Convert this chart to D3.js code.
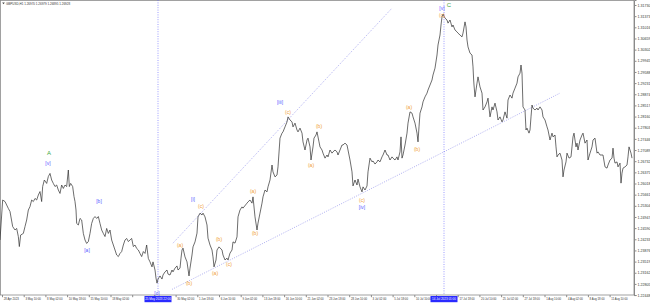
<!DOCTYPE html>
<html><head><meta charset="utf-8">
<script src="https://cdn.jsdelivr.net/npm/d3@7"></script>
<style>body{margin:0;background:#fff;overflow:hidden} svg{display:block;font-family:"Liberation Sans",Arial,sans-serif}</style>
</head><body><svg id="c" width="650" height="304"></svg>
<script>
// ---------- data ----------
const symbol = "GBPUSD,H1";
const headerQuote = ["1.26970", "1.26979", "1.26895", "1.26928"];

// [bar index, close]
const closeSeries = [
[0,1.2421],[8,1.2549],[15,1.2544],[25,1.2522],[30,1.2512],[38,1.2464],[45,1.2453],[50,1.2458],[55,1.2432],[58,1.2400],
[62,1.2437],[70,1.2442],[75,1.2464],[80,1.2485],[85,1.2517],[90,1.2528],[95,1.2549],[100,1.2544],[105,1.2554],[110,1.2549],
[115,1.2565],[120,1.2576],[125,1.2544],[128,1.2592],[133,1.2613],[140,1.2602],[145,1.2624],[150,1.2634],[155,1.2613],[160,1.2602],
[165,1.2592],[170,1.2597],[175,1.2581],[180,1.2570],[185,1.2597],[190,1.2586],[195,1.2597],[200,1.2592],[205,1.2645],[208,1.2592],
[212,1.2602],[218,1.2592],[222,1.2560],[225,1.2544],[228,1.2517],[230,1.2474],[235,1.2469],[240,1.2490],[245,1.2485],[250,1.2442],
[255,1.2421],[260,1.2410],[265,1.2416],[270,1.2442],[275,1.2474],[280,1.2490],[285,1.2496],[290,1.2490],[295,1.2496],[300,1.2474],
[305,1.2453],[310,1.2442],[315,1.2432],[320,1.2458],[325,1.2442],[330,1.2453],[335,1.2421],[340,1.2405],[345,1.2389],[350,1.2373],
[355,1.2368],[360,1.2378],[365,1.2384],[370,1.2405],[375,1.2421],[380,1.2426],[385,1.2416],[390,1.2421],[395,1.2426],[400,1.2400],
[405,1.2405],[410,1.2394],[415,1.2389],[420,1.2378],[425,1.2368],[430,1.2384],[435,1.2378],[440,1.2405],[445,1.2362],
[450,1.2351],[456,1.2335],[459,1.2351],[465,1.2325],[468,1.2299],[471,1.2283],[474,1.2296],[480,1.2306],[486,1.2296],[489,1.2309],
[495,1.2319],[501,1.2325],[504,1.2312],[510,1.2309],[516,1.2325],[519,1.2319],[525,1.2331],[531,1.2338],[534,1.2325],[540,1.2331],
[543,1.2363],[546,1.2389],[549,1.2395],[555,1.2367],[561,1.2351],[567,1.2306],[570,1.2331],[576,1.2373],[579,1.2399],[585,1.2415],
[591,1.2443],[594,1.2495],[600,1.2507],[606,1.2501],[609,1.2507],[615,1.2495],[621,1.2469],[624,1.2427],[630,1.2405],[636,1.2389],
[639,1.2367],[642,1.2335],[648,1.2357],[651,1.2389],[657,1.2399],[666,1.2389],[669,1.2373],[675,1.2357],[681,1.2363],[684,1.2357],
[690,1.2379],[696,1.2389],[699,1.2415],[705,1.2411],[711,1.2431],[714,1.2495],[720,1.2517],[726,1.2527],[729,1.2523],[741,1.2539],
[744,1.2543],[750,1.2549],[756,1.2539],[759,1.2559],[765,1.2495],[771,1.2453],[774,1.2475],[780,1.2507],[786,1.2539],[789,1.2559],
[795,1.2581],[801,1.2575],[804,1.2591],[810,1.2613],[816,1.2661],[819,1.2639],[825,1.2623],[831,1.2629],[834,1.2655],[840,1.2747],
[846,1.2763],[849,1.2767],[855,1.2783],[861,1.2799],[864,1.2815],[870,1.2805],[876,1.2799],[879,1.2783],[885,1.2795],[891,1.2773],
[894,1.2767],[900,1.2779],[906,1.2763],[909,1.2735],[915,1.2709],[921,1.2741],[924,1.2747],[930,1.2719],[933,1.2677],[939,1.2719],
[942,1.2747],[948,1.2757],[951,1.2767],[957,1.2735],[960,1.2719],[966,1.2709],[969,1.2699],[975,1.2683],[981,1.2693],[984,1.2687],
[990,1.2709],[996,1.2699],[999,1.2703],[1005,1.2709],[1011,1.2703],[1014,1.2693],[1020,1.2709],[1026,1.2725],[1029,1.2725],[1035,1.2731],
[1041,1.2725],[1044,1.2709],[1050,1.2677],[1056,1.2639],[1059,1.2594],[1065,1.2613],[1071,1.2597],[1074,1.2616],[1080,1.2591],[1086,1.2575],
[1089,1.2591],[1095,1.2581],[1101,1.2594],[1104,1.2639],[1110,1.2683],[1116,1.2671],[1119,1.2674],[1125,1.2664],[1131,1.2671],[1134,1.2677],
[1140,1.2671],[1146,1.2687],[1149,1.2693],[1155,1.2709],[1161,1.2693],[1164,1.2693],[1170,1.2677],[1176,1.2687],[1179,1.2683],[1185,1.2677],
[1191,1.2687],[1194,1.2677],[1200,1.2703],[1203,1.2751],[1206,1.2683],[1209,1.2693],[1215,1.2725],[1221,1.2763],[1224,1.2795],[1230,1.2831],
[1236,1.2827],[1239,1.2815],[1245,1.2795],[1251,1.2763],[1254,1.2735],[1257,1.2783],[1260,1.2827],[1266,1.2847],[1269,1.2863],[1275,1.2879],
[1281,1.2891],[1284,1.2901],[1290,1.2917],[1296,1.2933],[1299,1.2949],[1305,1.2971],[1311,1.3013],[1314,1.3045],[1320,1.3077],[1323,1.3109],
[1326,1.3135],[1329,1.3144],[1335,1.3131],[1341,1.3125],[1344,1.3115],[1350,1.3125],[1356,1.3103],[1359,1.3109],[1365,1.3093],[1371,1.3087],
[1374,1.3083],[1380,1.3077],[1386,1.3071],[1389,1.3083],[1395,1.3119],[1398,1.3103],[1401,1.3061],[1404,1.3039],[1410,1.3019],[1416,1.3013],
[1419,1.2975],[1421,1.2933],[1422,1.2917],[1425,1.2879],[1428,1.2901],[1431,1.2923],[1434,1.2943],[1440,1.2911],[1446,1.2891],[1449,1.2837],
[1455,1.2847],[1461,1.2863],[1464,1.2875],[1470,1.2815],[1476,1.2847],[1479,1.2837],[1485,1.2859],[1491,1.2831],[1494,1.2805],[1500,1.2815],
[1506,1.2799],[1509,1.2805],[1515,1.2831],[1521,1.2811],[1524,1.2869],[1530,1.2885],[1536,1.2875],[1539,1.2891],[1545,1.2907],[1551,1.2923],
[1554,1.2943],[1560,1.2955],[1563,1.2981],[1566,1.2955],[1569,1.2847],[1575,1.2837],[1578,1.2773],[1581,1.2779],[1587,1.2763],[1590,1.2773],
[1593,1.2815],[1596,1.2853],[1599,1.2843],[1605,1.2837],[1611,1.2843],[1614,1.2837],[1620,1.2847],[1626,1.2837],[1629,1.2815],[1635,1.2805],
[1641,1.2783],[1644,1.2773],[1650,1.2741],[1656,1.2763],[1659,1.2751],[1665,1.2757],[1668,1.2719],[1671,1.2687],[1674,1.2693],[1680,1.2699],
[1686,1.2677],[1689,1.2623],[1692,1.2645],[1698,1.2671],[1701,1.2699],[1707,1.2683],[1713,1.2687],[1716,1.2719],[1719,1.2751],[1722,1.2763],
[1728,1.2719],[1731,1.2731],[1734,1.2709],[1740,1.2741],[1746,1.2757],[1749,1.2763],[1755,1.2731],[1761,1.2741],[1764,1.2677],[1770,1.2699],
[1776,1.2719],[1779,1.2741],[1785,1.2747],[1791,1.2699],[1794,1.2703],[1800,1.2693],[1809,1.2693],[1815,1.2655],[1821,1.2651],[1824,1.2661],
[1830,1.2677],[1836,1.2683],[1839,1.2715],[1842,1.2683],[1845,1.2667],[1851,1.2671],[1854,1.2655],[1860,1.2667],[1863,1.2603],[1866,1.2635],
[1869,1.2651],[1875,1.2655],[1881,1.2661],[1884,1.2687],[1887,1.2719],[1893,1.2699],[1896,1.2683]
];

const yTickLabels = ["1.31730","1.31373","1.31016","1.30659","1.30302","1.29945","1.29588","1.29231","1.28874","1.28517",
"1.28160","1.27803","1.27446","1.27089","1.26732","1.26375","1.26018","1.25661","1.25304","1.24947","1.24590","1.24233",
"1.23876","1.23519","1.23162","1.22805","1.22448"];

const xTickLabels = ["28 Apr 2023","3 May 10:00","8 May 02:00","10 May 18:00","15 May 10:00","18 May 02:00","22 May 18:00",
"25 May 10:00","30 May 02:00","1 Jun 18:00","6 Jun 10:00","9 Jun 02:00","13 Jun 18:00","16 Jun 10:00","21 Jun 02:00",
"23 Jun 18:00","28 Jun 10:00","3 Jul 02:00","5 Jul 18:00","10 Jul 10:00","13 Jul 02:00","17 Jul 18:00","20 Jul 10:00",
"25 Jul 02:00","27 Jul 18:00","1 Aug 10:00","4 Aug 02:00","8 Aug 18:00","11 Aug 10:00"];
const xTickFirstBar = 6, xTickStepBars = 65.1;

const verticalMarks = [[474, "25 May 2023 22:00"], [1332, "14 Jul 2023 01:00"]];

// [bar1, price1, bar2, price2]
const trendLines = [[519, 1.2411, 1176, 1.3163], [516, 1.2263, 1680, 1.2891]];

// [text, bar, price, group]
const waveLabels = [
["A",147,1.2699,"g"],["[v]",144,1.2667,"b"],["[b]",297,1.2546,"b"],["[a]",261,1.2389,"b"],["[c]",471,1.2251,"b"],
["[i]",579,1.2552,"b"],["(c)",603,1.2530,"o"],["(a)",540,1.2405,"o"],["(b)",567,1.2283,"o"],
["(a)",645,1.2315,"o"],["(b)",657,1.2424,"o"],["(c)",687,1.2344,"o"],
["(a)",759,1.2578,"o"],["(b)",765,1.2443,"o"],["(c)",864,1.2831,"o"],["[iii]",840,1.2863,"b"],
["(a)",933,1.2661,"o"],["(b)",957,1.2786,"o"],["(c)",1086,1.2549,"o"],["[iv]",1086,1.2527,"b"],
["(a)",1227,1.2847,"o"],["(b)",1251,1.2712,"o"],["(c)",1326,1.3141,"o"],["[v]",1326,1.3163,"b"],["C",1347,1.3173,"g"]
];

// ---------- layout / style ----------
const plotR = 634, plotB = 295;
const colors = {line:"#2e2e2e", axis:"#8a8a8a", text:"#333", dots:"#7777e6", vline:"#5a5aff",
  b:"#5a5aff", o:"#f0a035", g:"#3faa3f", box:"#2a2aff"};

const svg = d3.select("#c");
const x = d3.scaleLinear().domain([0, 1899]).range([0, 633]);
const y = d3.scaleLinear().domain([1.3189, 1.3189 - 0.00032 * plotB]).range([0, plotB]);

// frame
svg.append("rect").attr("x",0.5).attr("y",0.5).attr("width",plotR-0.5).attr("height",plotB-0.5)
  .attr("fill","none").attr("stroke",colors.axis).attr("stroke-width",0.8);

// trend lines
svg.append("g").selectAll("line").data(trendLines).join("line")
  .attr("x1",d=>x(d[0])).attr("y1",d=>y(d[1])).attr("x2",d=>x(d[2])).attr("y2",d=>y(d[3]))
  .attr("stroke",colors.dots).attr("stroke-width",0.6).attr("stroke-dasharray","1,1.4");

// vertical lines
svg.append("g").selectAll("line").data(verticalMarks).join("line")
  .attr("x1",d=>x(d[0])).attr("x2",d=>x(d[0])).attr("y1",0).attr("y2",plotB)
  .attr("stroke",colors.vline).attr("stroke-width",0.6).attr("stroke-dasharray","1,1.4");

// price line
svg.append("path").datum(closeSeries)
  .attr("d", d3.line().x(d=>x(d[0])).y(d=>y(d[1])))
  .attr("fill","none").attr("stroke",colors.line).attr("stroke-width",0.7).attr("stroke-linejoin","miter");

// wave labels
svg.append("g").selectAll("text").data(waveLabels).join("text")
  .attr("x",d=>x(d[1])).attr("y",d=>y(d[2])).attr("dy","0.35em").attr("text-anchor","middle")
  .attr("font-size", d=>d[3]==="g"?6:5).attr("fill",d=>colors[d[3]]).text(d=>d[0]);

// y axis
const yAxis = d3.axisRight(y).tickValues(yTickLabels.map(Number)).tickSize(2.5).tickFormat((d,i)=>yTickLabels[i]);
const gy = svg.append("g").attr("transform",`translate(${plotR},0)`).call(yAxis);
gy.select(".domain").attr("stroke",colors.axis);
gy.selectAll(".tick line").attr("stroke",colors.axis);
gy.selectAll(".tick text").attr("font-size",3.6).attr("fill",colors.text).attr("x",3.5);

// x axis (labels hidden where the highlighted time boxes cover them)
const boxHalf = 13.5;
const xTickBars = xTickLabels.map((_, i) => xTickFirstBar + i * xTickStepBars);
const covered = b => verticalMarks.some(v => Math.abs(x(b) + 8 - x(v[0])) < boxHalf + 6);
const xAxis = d3.axisBottom(x).tickValues(xTickBars).tickSize(2.2).tickFormat((d,i)=>covered(d) ? "" : xTickLabels[i]);
const gx = svg.append("g").attr("transform",`translate(0,${plotB})`).call(xAxis);
gx.select(".domain").remove();
gx.selectAll(".tick line").attr("stroke",colors.axis);
gx.selectAll(".tick text").attr("font-size",2.8).attr("fill",colors.text)
  .attr("text-anchor","start").attr("x",1.2).attr("y",3);

// highlighted time boxes
const vb = svg.append("g").selectAll("g").data(verticalMarks).join("g")
  .attr("transform",d=>`translate(${x(d[0])},${plotB+1})`);
vb.append("rect").attr("x",-boxHalf).attr("y",0).attr("width",boxHalf*2).attr("height",6.2).attr("fill",colors.box);
vb.append("text").attr("x",0).attr("y",4.3).attr("text-anchor","middle").attr("font-size",3).attr("fill","#fff").text(d=>d[1]);

// header
svg.append("path").attr("d","M2.2,2.4 L4.8,2.4 L3.5,4.3 Z").attr("fill","#444");
svg.append("text").attr("x",6).attr("y",4.6).attr("font-size",3).attr("fill",colors.text)
  .text(symbol + "  " + headerQuote.join(" "));
</script></body></html>
